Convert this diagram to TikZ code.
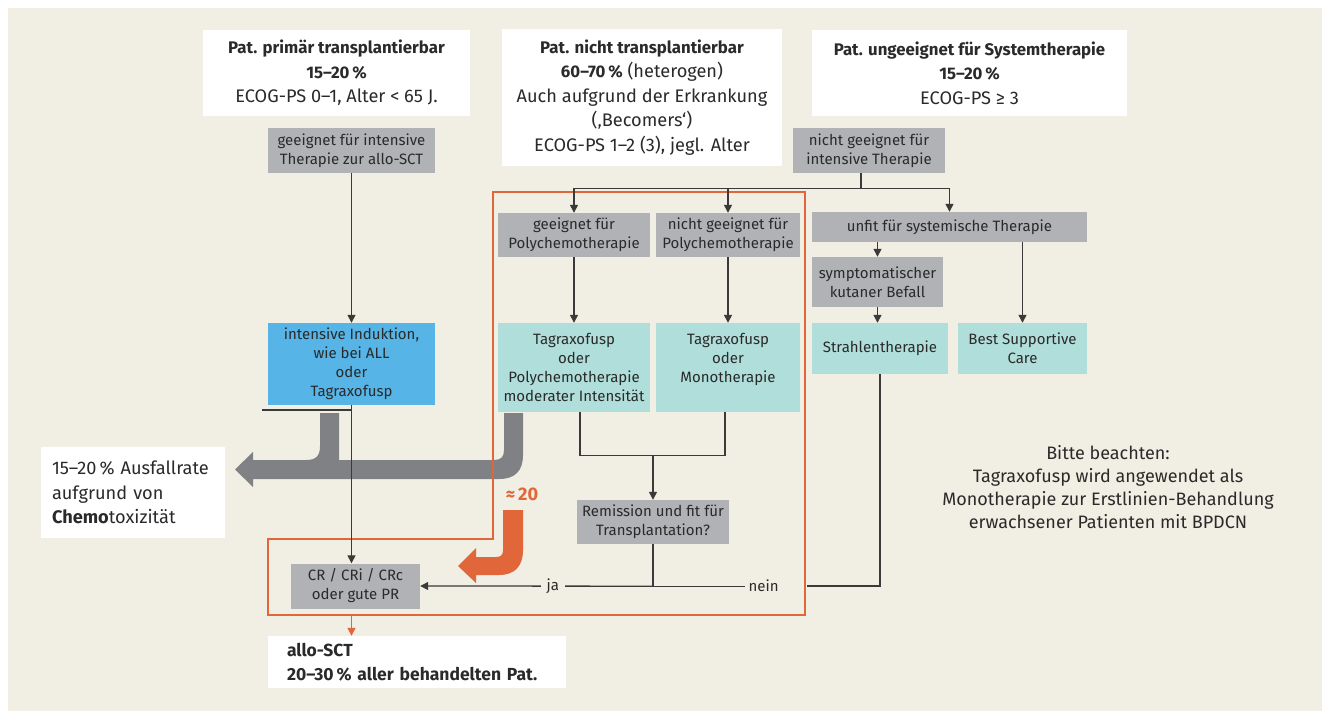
\documentclass[tikz,border=0pt]{standalone}
\usepackage{fontspec}
\setmainfont{Fira Sans}
\usetikzlibrary{arrows.meta}
\definecolor{bgc}{HTML}{F1EEE3}
\definecolor{grb}{HTML}{B1B2B5}
\definecolor{blb}{HTML}{56B4E6}
\definecolor{tlb}{HTML}{B0DEDA}
\definecolor{orc}{HTML}{E1663A}
\definecolor{gra}{HTML}{808184}
\definecolor{lnc}{HTML}{3A3A3A}
\definecolor{txt}{HTML}{2A2A2A}
\newcommand\fsbig{\fontsize{18.2}{24.5}\selectfont}
\newcommand\fsnote{\fontsize{18}{23}\selectfont}
\newcommand\fssmall{\fontsize{15}{19}\selectfont}
\newcommand\bt[1]{{\fontsize{16.8}{24.5}\selectfont\bfseries #1}}
\begin{document}
\begin{tikzpicture}[x=1pt,y=-1pt,
  basebox/.style={inner sep=0pt, align=center, text=txt, font=\fssmall},
  wbox/.style={basebox, fill=white, font=\fsbig},
  gbox/.style={basebox, fill=grb},
  bbox/.style={basebox, fill=blb},
  tbox/.style={basebox, fill=tlb},
  ln/.style={draw=lnc, line width=1.3pt},
  arr/.style={-{Triangle[width=8pt,length=8pt]}},
  oln/.style={draw=orc, line width=1.6pt}]
\useasboundingbox (0,0) rectangle (1322,711);
\fill[bgc] (8,8) rectangle (1322,711);

% header boxes
\node[wbox, minimum width=267pt, minimum height=86pt] (tA) at (336.5,73)
  {\bt{Pat. primär transplantierbar}\\\bt{15–20\,\%}\\ECOG-PS 0–1, Alter < 65 J.};
\node[wbox, minimum width=280pt, minimum height=137pt] (tB) at (642,97.5)
  {\bt{Pat. nicht transplantierbar}\\\bt{60–70\,\%} (heterogen)\\Auch aufgrund der Erkrankung\\(‚Becomers‘)\\ECOG-PS 1–2 (3), jegl. Alter};
\node[wbox, minimum width=315pt, minimum height=86pt] (tC) at (969.5,73)
  {\bt{Pat. ungeeignet für Systemtherapie}\\\bt{15–20\,\%}\\ECOG-PS ≥ 3};

% grey arrow (chemotoxicity)
\fill[gra] (253,460) -- (306,460) .. controls (316,460) and (320,456) .. (320,446)
  -- (320,413) -- (339,413) -- (339,460) -- (494,460)
  .. controls (501,460) and (504,457) .. (504,450) -- (504,413) -- (523,413) -- (523,455)
  .. controls (523,471) and (515,479) .. (499,479) -- (253,479) -- (253,487)
  -- (235,469.5) -- (253,452) -- cycle;

% orange frame
\draw[oln] (493,192) -- (805,192) -- (805,615) -- (268,615) -- (268,539) -- (493,539) -- cycle;

% orange arrow
\fill[orc] (503,510) -- (523,510) -- (523,550) .. controls (523,566) and (515,575) .. (499,575)
  -- (476,575) -- (476,583) -- (458,566) -- (476,548) -- (476,557) -- (496,557)
  .. controls (501,557) and (503,555) .. (503,550) -- cycle;
\node[text=orc, font=\fsbig\bfseries] (approx) at (522,494) {≈\,20};

% left column
\node[gbox, minimum width=167pt, minimum height=45pt] (gInt) at (351.5,150.5)
  {geeignet für intensive\\Therapie zur allo-SCT};
\node[bbox, minimum width=167pt, minimum height=82pt] (blue) at (351.5,364)
  {intensive Induktion,\\wie bei ALL\\oder\\Tagraxofusp};
\node[gbox, minimum width=129pt, minimum height=45pt] (cr) at (355.5,586)
  {CR / CRi / CRc\\oder gute PR};
\node[wbox, minimum width=184pt, minimum height=91pt, align=left, text width=162pt, inner xsep=11pt] (aus) at (133,492.5)
  {15–20\,\% Ausfallrate\\aufgrund von\\\textbf{Chemo}toxizität};
\node[wbox, minimum width=298pt, minimum height=52pt, align=left, text width=260pt, inner xsep=19pt, font=\fontsize{17.5}{24}\selectfont\bfseries] (allo) at (417,662)
  {allo-SCT\\20–30\,\% aller behandelten Pat.};

% middle column
\node[gbox, minimum width=152pt, minimum height=45pt] (gNicht) at (869,150.5)
  {nicht geeignet für\\intensive Therapie};
\node[gbox, minimum width=152pt, minimum height=44pt] (gPoly) at (574,235)
  {geeignet für\\Polychemotherapie};
\node[gbox, minimum width=144pt, minimum height=44pt] (gNoPoly) at (728,235)
  {nicht geeignet für\\Polychemotherapie};
\node[tbox, minimum width=152pt, minimum height=89pt] (tPoly) at (574,367.5)
  {Tagraxofusp\\oder\\Polychemotherapie\\moderater Intensität};
\node[tbox, minimum width=144pt, minimum height=89pt] (tMono) at (728,367.5)
  {Tagraxofusp\\oder\\Monotherapie\\\mbox{}};
\node[gbox, minimum width=152pt, minimum height=44pt] (remis) at (653,522)
  {Remission und fit für\\Transplantation?};

% right column
\node[gbox, minimum width=275pt, minimum height=30pt] (unfit) at (949.5,227)
  {unfit für systemische Therapie};
\node[gbox, minimum width=131pt, minimum height=50pt] (symp) at (877.5,282)
  {symptomatischer\\kutaner Befall};
\node[tbox, minimum width=136pt, minimum height=51pt] (strahl) at (880,348.5)
  {Strahlentherapie};
\node[tbox, minimum width=129pt, minimum height=51pt] (bsc) at (1022.5,348.5)
  {Best Supportive\\Care};

\node[text=txt, font=\fsnote, align=center] (note) at (1108,487)
  {Bitte beachten:\\Tagraxofusp wird angewendet als\\Monotherapie zur Erstlinien-Behandlung\\erwachsener Patienten mit BPDCN};

% connectors
\draw[ln,arr] (gInt) -- (blue);
\coordinate (stub) at (262,410);
\draw[ln] (stub) -- (stub -| blue.south);
\draw[ln,arr] (blue.south) -- (blue.south |- cr.north);

\draw[ln] ([xshift=-8pt]gNicht.south) -- ++(0,15) coordinate (br);
\draw[ln,arr] (br) -| (gPoly.north);
\draw[ln,arr] (br) -| (gNoPoly.north);
\draw[ln,arr] (br) -| (unfit.north);

\draw[ln,arr] (gPoly) -- (tPoly);
\draw[ln,arr] (gNoPoly) -- (tMono);
\path (remis.north) ++(0,-44) coordinate (mg);
\draw[ln] ([xshift=6pt]tPoly.south) |- (mg) -| ([xshift=-3pt]tMono.south);
\draw[ln,arr] (mg) -- (remis.north);

\draw[ln,arr] (unfit.south -| symp.north) -- (symp.north);
\draw[ln,arr] (unfit.south -| bsc.north) -- (bsc.north);
\draw[ln,arr] (symp.south) -- (symp.south |- strahl.north);

\draw[ln] (remis.south) -- ++(0,42) coordinate (jn);
\draw[ln,arr] (jn) -- node[pos=0.43, fill=bgc, inner xsep=6pt, inner ysep=1pt, text=txt, font=\fssmall] (ja) {ja} (cr.east);
\draw[ln] (jn) -- ++(92,0) node[anchor=west, inner xsep=3pt, text=txt, font=\fssmall] (nein) {nein};
\coordinate (se) at (807,586);
\draw[ln] (strahl.south) |- (se);

\draw[draw=orc, line width=1.3pt, -{Triangle[width=8pt,length=8pt]}] ([yshift=-7pt]cr.south -| blue.south) -- (blue.south |- allo.north);
\end{tikzpicture}
\end{document}
